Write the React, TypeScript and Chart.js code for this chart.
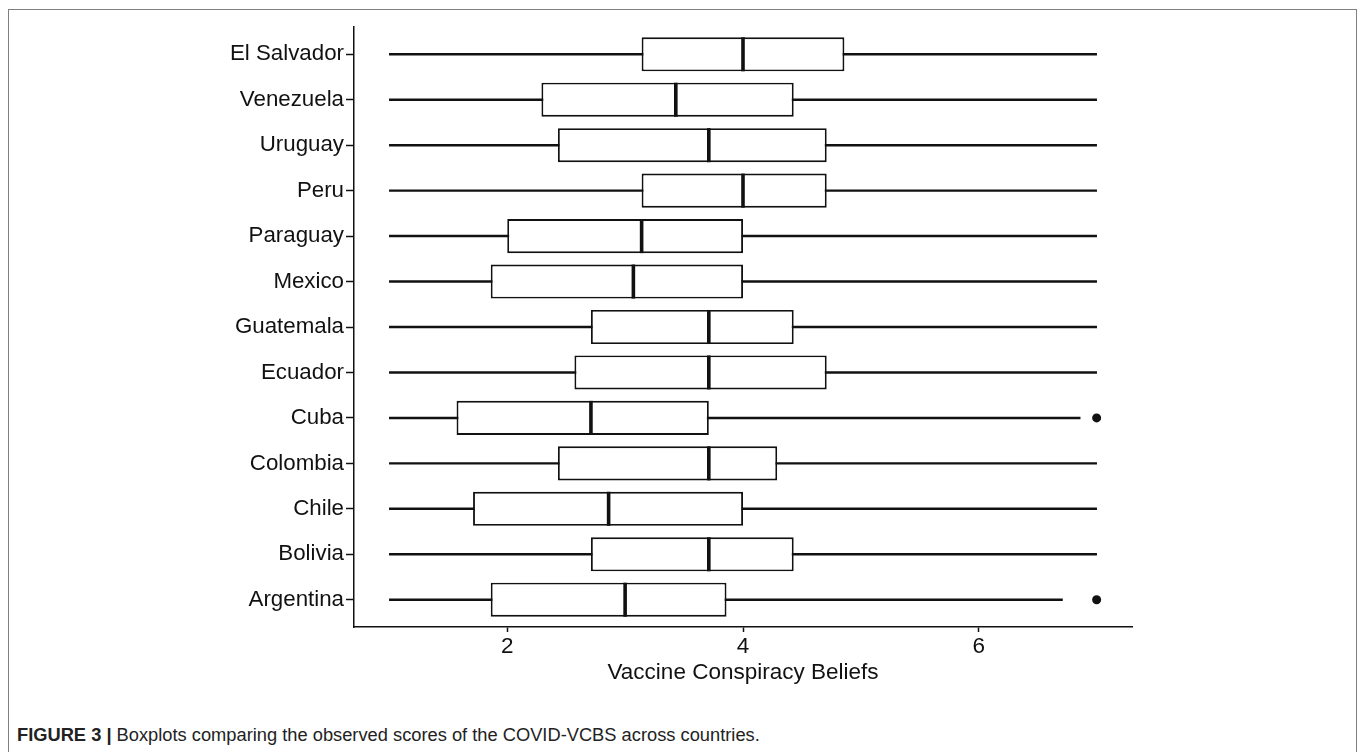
import React, { useEffect, useRef } from "react";
import { Chart, registerables } from "chart.js";

Chart.register(...registerables);

// ---- data ----
const countries = [
  "El Salvador",
  "Venezuela",
  "Uruguay",
  "Peru",
  "Paraguay",
  "Mexico",
  "Guatemala",
  "Ecuador",
  "Cuba",
  "Colombia",
  "Chile",
  "Bolivia",
  "Argentina",
];
const whiskerLow = [1, 1, 1, 1, 1, 1, 1, 1, 1, 1, 1, 1, 1];
const q1 = [3.14, 2.29, 2.43, 3.14, 2.0, 1.86, 2.71, 2.57, 1.57, 2.43, 1.71, 2.71, 1.86];
const medians = [4.0, 3.43, 3.71, 4.0, 3.14, 3.07, 3.71, 3.71, 2.71, 3.71, 2.86, 3.71, 3.0];
const q3 = [4.86, 4.43, 4.71, 4.71, 4.0, 4.0, 4.43, 4.71, 3.71, 4.29, 4.0, 4.43, 3.86];
const whiskerHigh = [7, 7, 7, 7, 7, 7, 7, 7, 6.86, 7, 7, 7, 6.71];
const outlierCountries = ["Cuba", "Argentina"];
const outlierValues = [7, 7];
const xTicks = [2, 4, 6];
const xMin = 0.7;
const xMax = 7.3;
const xTitle = "Vaccine Conspiracy Beliefs";
const captionBold = "FIGURE 3 |";
const captionText = " Boxplots comparing the observed scores of the COVID-VCBS across countries.";

const FONT = "'Liberation Sans', Arial, Helvetica, sans-serif";
const INK = "#111111";

export default function App() {
  const ref = useRef<HTMLCanvasElement>(null);

  useEffect(() => {
    const canvas = ref.current;
    if (!canvas) return;
    const halfBox = (c: any) => {
      const s = c.chart.scales.y;
      if (!s) return 17;
      return (Math.abs(s.getPixelForValue(1) - s.getPixelForValue(0)) * 0.75) / 2;
    };
    const chart = new Chart(canvas, {
      type: "bar",
      data: {
        datasets: [
          {
            type: "bar",
            label: "whisker",
            data: countries.map((_, i) => ({ y: i, x: [whiskerLow[i], whiskerHigh[i]] })) as any,
            backgroundColor: INK,
            borderWidth: 0,
            barThickness: 1.8,
            grouped: false,
            order: 4,
          } as any,
          {
            type: "bar",
            label: "box",
            data: countries.map((_, i) => ({ y: i, x: [q1[i], q3[i]] })) as any,
            backgroundColor: "#ffffff",
            borderColor: INK,
            borderWidth: 1.9,
            borderSkipped: false,
            grouped: false,
            barPercentage: 0.75,
            categoryPercentage: 1,
            order: 3,
          } as any,
          {
            type: "line",
            label: "median",
            data: countries.map((_, i) => ({ y: i, x: medians[i] })) as any,
            showLine: false,
            pointStyle: "line",
            pointRotation: 90,
            pointRadius: halfBox,
            pointHoverRadius: halfBox,
            pointBorderWidth: 3.6,
            pointBorderColor: INK,
            pointBackgroundColor: INK,
            order: 2,
          } as any,
          {
            type: "line",
            label: "outlier",
            data: outlierCountries.map((c, k) => ({ y: countries.indexOf(c), x: outlierValues[k] })) as any,
            showLine: false,
            pointStyle: "circle",
            pointRadius: 4.5,
            pointBackgroundColor: INK,
            pointBorderColor: INK,
            pointBorderWidth: 0,
            order: 1,
          } as any,
        ],
      },
      options: {
        responsive: false,
        animation: false,
        devicePixelRatio: 1,
        indexAxis: "y",
        layout: { padding: { top: 27, right: 228, bottom: 11, left: 0 } },
        plugins: {
          legend: { display: false },
          tooltip: { enabled: false },
          title: { display: false },
        },
        scales: {
          x: {
            type: "linear",
            position: "bottom",
            min: xMin,
            max: xMax,
            offset: false,
            afterBuildTicks: (s: any) => {
              s.ticks = xTicks.map((v) => ({ value: v }));
            },
            afterFit: (s: any) => {
              s.height = 62;
            },
            grid: {
              drawOnChartArea: false,
              drawTicks: true,
              tickLength: 5,
              tickColor: INK,
              tickWidth: 1.5,
              offset: false,
            },
            border: { display: true, color: INK, width: 1.5 },
            ticks: {
              color: INK,
              font: { family: FONT, size: 22.5 },
              padding: 1,
              maxRotation: 0,
              autoSkip: false,
            },
            title: {
              display: true,
              text: xTitle,
              color: INK,
              font: { family: FONT, size: 22.5 },
              padding: { top: 0, bottom: 2.5 },
            },
          },
          y: {
            type: "linear",
            position: "left",
            reverse: true,
            min: -0.6,
            max: countries.length - 1 + 0.6,
            offset: false,
            afterBuildTicks: (s: any) => {
              s.ticks = countries.map((_, i) => ({ value: i }));
            },
            afterFit: (s: any) => {
              s.width = 354;
            },
            grid: {
              drawOnChartArea: false,
              drawTicks: true,
              tickLength: 8,
              tickColor: INK,
              tickWidth: 1.5,
              offset: false,
            },
            border: { display: true, color: INK, width: 1.5 },
            ticks: {
              autoSkip: false,
              color: INK,
              font: { family: FONT, size: 22.3 },
              padding: 2,
              callback: (v: any) => countries[Math.round(Number(v))] ?? "",
            },
          },
        },
      } as any,
    });
    return () => chart.destroy();
  }, []);

  return (
    <div
      style={{
        position: "fixed",
        left: 0,
        top: 0,
        width: 1360,
        height: 752,
        overflow: "hidden",
        background: "#ffffff",
      }}
    >
      <div
        style={{
          position: "absolute",
          left: 8,
          top: 9,
          width: 1349,
          height: 800,
          border: "1.5px solid #808080",
          boxSizing: "border-box",
        }}
      />
      <canvas
        ref={ref}
        width={1360}
        height={700}
        style={{ position: "absolute", left: 0, top: 0, width: 1360, height: 700 }}
      />
      <div
        style={{
          position: "absolute",
          left: 17,
          top: 723,
          fontFamily: FONT,
          fontSize: 18.3,
          lineHeight: "24px",
          color: "#222222",
          whiteSpace: "nowrap",
        }}
      >
        <b>{captionBold}</b>
        {captionText}
      </div>
    </div>
  );
}
